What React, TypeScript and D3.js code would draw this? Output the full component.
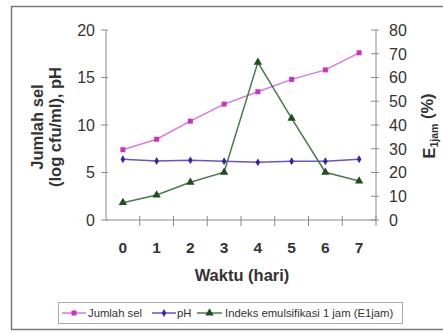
import * as d3 from "d3";

const days = ["0", "1", "2", "3", "4", "5", "6", "7"];
const jumlahSel = [7.4, 8.5, 10.4, 12.2, 13.5, 14.8, 15.8, 17.6];
const ph = [6.39, 6.21, 6.28, 6.18, 6.07, 6.18, 6.18, 6.39];
const emulsifikasi = [7.3, 10.5, 15.9, 20.1, 66.4, 42.8, 20.1, 16.4];
const leftTicks = [0, 5, 10, 15, 20];
const rightTicks = [0, 10, 20, 30, 40, 50, 60, 70, 80];

const W = 443;
const H = 333;
const left = 106;
const right = 376;
const top = 30;
const bottom = 220;
const font = "Liberation Sans, Arial, sans-serif";
const axisColor = "#8a8a8a";
const textColor = "#333";

export default function App() {
  const x = d3.scaleBand<string>().domain(days).range([left, right]);
  const yL = d3.scaleLinear([0, 20], [bottom, top]);
  const yR = d3.scaleLinear([0, 80], [bottom, top]);
  const cx = (d: string) => (x(d) ?? 0) + x.bandwidth() / 2;

  const lineL = d3.line<number>((_, i) => cx(days[i]), (v) => yL(v));
  const lineR = d3.line<number>((_, i) => cx(days[i]), (v) => yR(v));
  const tri = d3.symbol(d3.symbolTriangle, 30)() ?? "";
  const diamond = d3.symbol(d3.symbolDiamond, 18)() ?? "";

  const boundaries = days.map((d) => (x(d) ?? 0) + x.bandwidth());

  return (
    <svg
      width={W}
      height={H}
      style={{ position: "absolute", left: 0, top: 0, background: "#fff" }}
      fontFamily={font}
    >
      <rect x={11.5} y={6.5} width={W} height={323} fill="#fff" stroke="#7a7a7a" strokeWidth={1.5} />

      {/* left axis */}
      <line x1={left} x2={left} y1={top} y2={bottom} stroke={axisColor} />
      {leftTicks.map((t) => (
        <g key={"l" + t}>
          <line x1={left - 5} x2={left + 2} y1={yL(t)} y2={yL(t)} stroke={axisColor} />
          <text x={95} y={yL(t)} dy="0.36em" textAnchor="end" fontSize={16} fill={textColor}>
            {t}
          </text>
        </g>
      ))}

      {/* right axis */}
      <line x1={right} x2={right} y1={top} y2={bottom} stroke={axisColor} />
      {rightTicks.map((t) => (
        <g key={"r" + t}>
          <line x1={right - 5} x2={right + 3} y1={yR(t)} y2={yR(t)} stroke={axisColor} />
          <text x={389} y={yR(t)} dy="0.36em" textAnchor="start" fontSize={16} fill={textColor}>
            {t}
          </text>
        </g>
      ))}

      {/* x axis */}
      <line x1={left} x2={right} y1={bottom} y2={bottom} stroke={axisColor} />
      {boundaries.map((b, i) => (
        <line key={"xt" + i} x1={b} x2={b} y1={bottom - 4} y2={bottom + 6} stroke={axisColor} />
      ))}
      {days.map((d) => (
        <text key={"xl" + d} x={cx(d)} y={247} dy="0.36em" textAnchor="middle" fontSize={15.5} fontWeight="bold" fill={textColor}>
          {d}
        </text>
      ))}

      {/* titles */}
      <text x={242} y={275} dy="0.36em" textAnchor="middle" fontSize={16.5} fontWeight="bold" fill={textColor}>
        Waktu (hari)
      </text>
      <g transform="translate(37,127) rotate(-90)">
        <text textAnchor="middle" dy="0.36em" fontSize={16.5} fontWeight="bold" fill={textColor}>
          Jumlah sel
        </text>
      </g>
      <g transform="translate(55,127) rotate(-90)">
        <text textAnchor="middle" dy="0.36em" fontSize={16.5} fontWeight="bold" fill={textColor}>
          (log cfu/ml), pH
        </text>
      </g>
      <g transform="translate(429,126) rotate(-90)">
        <text textAnchor="middle" dy="0.36em" fontSize={16.5} fontWeight="bold" fill={textColor}>
          E<tspan fontSize={10.5} dy="0.25em">1jam</tspan>
          <tspan dy="-0.25em"> (%)</tspan>
        </text>
      </g>

      {/* series */}
      <path d={lineL(jumlahSel) ?? ""} fill="none" stroke="#dd77dd" strokeWidth={1.5} />
      {jumlahSel.map((v, i) => (
        <rect key={"s" + i} x={cx(days[i]) - 2.5} y={yL(v) - 2.5} width={5} height={5} fill="#cc33bb" />
      ))}
      <path d={lineL(ph) ?? ""} fill="none" stroke="#6655cc" strokeWidth={1.5} />
      {ph.map((v, i) => (
        <path key={"p" + i} d={diamond} transform={`translate(${cx(days[i])},${yL(v)})`} fill="#3322aa" />
      ))}
      <path d={lineR(emulsifikasi) ?? ""} fill="none" stroke="#4a7a4a" strokeWidth={1.5} />
      {emulsifikasi.map((v, i) => (
        <path key={"e" + i} d={tri} transform={`translate(${cx(days[i])},${yR(v)})`} fill="#1e4d1e" />
      ))}

      {/* legend */}
      <rect x={58.5} y={302.5} width={344} height={21} fill="#fff" stroke="#aaa" />
      <g fontSize={11.3} fill={textColor}>
        <line x1={62} x2={86} y1={313} y2={313} stroke="#dd77dd" strokeWidth={1.5} />
        <rect x={71.5} y={310.5} width={5} height={5} fill="#cc33bb" />
        <text x={88} y={313} dy="0.36em">Jumlah sel</text>
        <line x1={152} x2={176} y1={313} y2={313} stroke="#6655cc" strokeWidth={1.5} />
        <path d={diamond} transform="translate(164,313)" fill="#3322aa" />
        <text x={177} y={313} dy="0.36em">pH</text>
        <line x1={197} x2={222} y1={313} y2={313} stroke="#4a7a4a" strokeWidth={1.5} />
        <path d={tri} transform="translate(209.5,313)" fill="#1e4d1e" />
        <text x={225} y={313} dy="0.36em">Indeks emulsifikasi 1 jam (E1jam)</text>
      </g>
    </svg>
  );
}
